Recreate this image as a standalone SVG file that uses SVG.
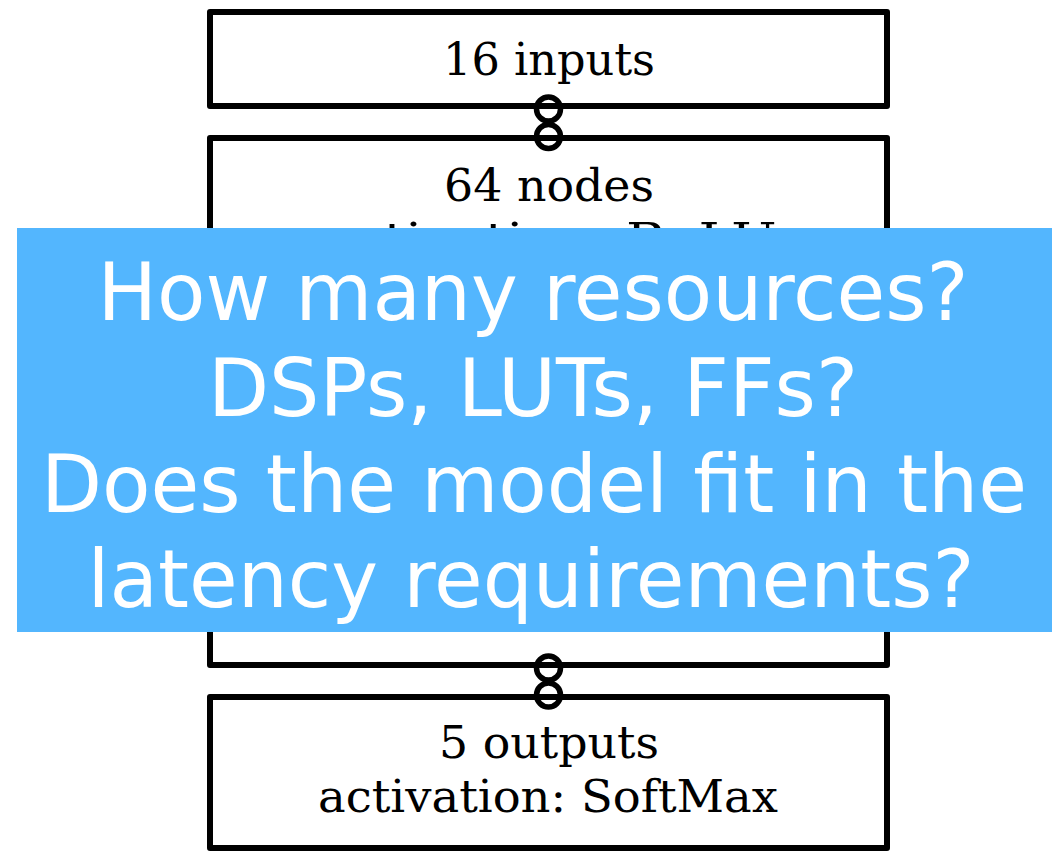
<svg xmlns="http://www.w3.org/2000/svg" width="1054" height="861" viewBox="0 0 1054 861">
  <style>
    .box { fill: #ffffff; stroke: #000000; stroke-width: 6; stroke-linejoin: round; }
    .lbl { font-family: "DejaVu Serif", "Liberation Serif", serif; font-size: 45px; fill: #000000; text-anchor: middle; }
    .link { fill: none; stroke: #000000; stroke-width: 5.5; }
    .note { font-family: "DejaVu Sans", "Liberation Sans", sans-serif; font-size: 80px; fill: #ffffff; text-anchor: middle; }
  </style>
  <rect x="0" y="0" width="1054" height="861" fill="#ffffff"/>

  <g id="layer-input">
    <rect class="box" x="210" y="12" width="677" height="94"/>
    <text class="lbl" x="549" y="75" textLength="212" lengthAdjust="spacingAndGlyphs">16 inputs</text>
  </g>

  <g id="layer-hidden">
    <rect class="box" x="210" y="138" width="677" height="527"/>
    <text class="lbl" x="549" y="201" textLength="210" lengthAdjust="spacingAndGlyphs">64 nodes</text>
    <text class="lbl" x="549" y="255" textLength="455" lengthAdjust="spacingAndGlyphs">activation: ReLU</text>
  </g>

  <g id="layer-output">
    <rect class="box" x="210" y="697" width="677" height="151"/>
    <text class="lbl" x="549" y="758" textLength="220" lengthAdjust="spacingAndGlyphs">5 outputs</text>
    <text class="lbl" x="548" y="812" textLength="460" lengthAdjust="spacingAndGlyphs">activation: SoftMax</text>
  </g>

  <g id="connectors">
    <circle class="link" cx="548.5" cy="109" r="12"/>
    <circle class="link" cx="548.5" cy="136.5" r="12"/>
    <circle class="link" cx="548.5" cy="668" r="12"/>
    <circle class="link" cx="548.5" cy="695" r="12"/>
  </g>

  <g id="question-banner">
    <rect x="17" y="228" width="1035" height="404" fill="#53b6fe"/>
    <text class="note" x="533" y="320" textLength="871" lengthAdjust="spacingAndGlyphs">How many resources?</text>
    <text class="note" x="533" y="416" textLength="650" lengthAdjust="spacingAndGlyphs">DSPs, LUTs, FFs?</text>
    <text class="note" x="534" y="512" textLength="986" lengthAdjust="spacingAndGlyphs">Does the model fit in the</text>
    <text class="note" x="531" y="607" textLength="887" lengthAdjust="spacingAndGlyphs">latency requirements?</text>
  </g>
</svg>
